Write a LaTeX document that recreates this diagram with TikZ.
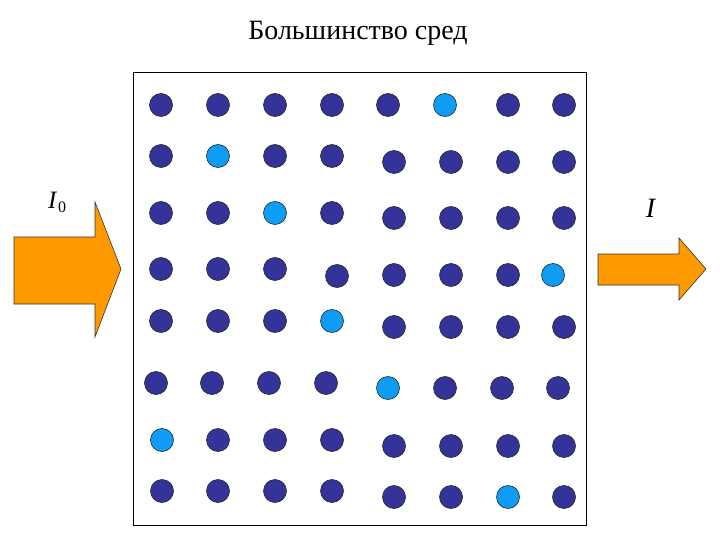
\documentclass[tikz,border=0pt]{standalone}
\usepackage{fontspec}
\setmainfont{Liberation Serif}
\definecolor{darkdot}{HTML}{333399}
\definecolor{lightdot}{HTML}{0F9CF5}
\definecolor{arroworange}{HTML}{FF9900}
\tikzset{
  dot/.style={circle, draw=black!85, line width=0.6pt, fill=darkdot, minimum size=23pt, inner sep=0pt},
  ldot/.style={dot, fill=lightdot},
  bigarrow/.style={fill=arroworange, draw=black!80, line width=0.6pt, line join=miter},
  label/.style={font=\fontsize{28}{30}\selectfont, inner sep=0pt, anchor=base}
}
\begin{document}
\begin{tikzpicture}[x=1pt, y=-1pt]
\useasboundingbox (0,0) rectangle (720,540);
\node[label] (title) at (358,40) {Большинство сред};
\node[draw=black, line width=1.2pt, minimum width=453pt, minimum height=453pt, inner sep=0pt, anchor=north west] (box) at (133,72) {};
% arrows
\draw[bigarrow] (14,237) -- (95,237) -- (95,202) -- (121,269) -- (95,337) -- (95,304) -- (14,304) -- cycle;
\draw[bigarrow] (598,254) -- (679,254) -- (679,238) -- (706,269) -- (679,300) -- (679,285) -- (598,285) -- cycle;
\node[label, anchor=base west, font=\fontsize{25}{28}\selectfont] (I0) at (48,209) {\textit{I}\kern0.5pt\raisebox{-4pt}{\fontsize{16}{17}\selectfont 0}};
\node[label, font=\fontsize{28}{30}\selectfont] (I) at (651,218) {\textit{I}};
% row 1
\node[dot] (d11) at (161,105) {};
\node[dot] (d12) at (218,105) {};
\node[dot] (d13) at (275,105) {};
\node[dot] (d14) at (332,105) {};
\node[dot] (d15) at (388,105) {};
\node[ldot] (d16) at (445,105) {};
\node[dot] (d17) at (508,105) {};
\node[dot] (d18) at (564,105) {};
% row 2
\node[dot] (d21) at (161,156) {};
\node[ldot] (d22) at (218,156) {};
\node[dot] (d23) at (275,156) {};
\node[dot] (d24) at (332,156) {};
\node[dot] (d25) at (394,162) {};
\node[dot] (d26) at (451,162) {};
\node[dot] (d27) at (508,162) {};
\node[dot] (d28) at (564,162) {};
% row 3
\node[dot] (d31) at (161,213) {};
\node[dot] (d32) at (218,213) {};
\node[ldot] (d33) at (275,213) {};
\node[dot] (d34) at (332,213) {};
\node[dot] (d35) at (394,218) {};
\node[dot] (d36) at (451,218) {};
\node[dot] (d37) at (508,218) {};
\node[dot] (d38) at (564,218) {};
% row 4
\node[dot] (d41) at (161,269) {};
\node[dot] (d42) at (218,269) {};
\node[dot] (d43) at (275,269) {};
\node[dot] (d44) at (337,276) {};
\node[dot] (d45) at (394,275) {};
\node[dot] (d46) at (451,275) {};
\node[dot] (d47) at (508,275) {};
\node[ldot] (d48) at (553,275) {};
% row 5
\node[dot] (d51) at (161,321) {};
\node[dot] (d52) at (218,321) {};
\node[dot] (d53) at (275,321) {};
\node[ldot] (d54) at (332,321) {};
\node[dot] (d55) at (394,327) {};
\node[dot] (d56) at (451,327) {};
\node[dot] (d57) at (508,327) {};
\node[dot] (d58) at (564,327) {};
% row 6
\node[dot] (d61) at (156,383) {};
\node[dot] (d62) at (212,383) {};
\node[dot] (d63) at (269,383) {};
\node[dot] (d64) at (326,383) {};
\node[ldot] (d65) at (388,388) {};
\node[dot] (d66) at (445,388) {};
\node[dot] (d67) at (502,388) {};
\node[dot] (d68) at (558,388) {};
% row 7
\node[ldot] (d71) at (162,440) {};
\node[dot] (d72) at (218,440) {};
\node[dot] (d73) at (275,440) {};
\node[dot] (d74) at (332,440) {};
\node[dot] (d75) at (394,446) {};
\node[dot] (d76) at (451,446) {};
\node[dot] (d77) at (508,446) {};
\node[dot] (d78) at (564,446) {};
% row 8
\node[dot] (d81) at (162,491) {};
\node[dot] (d82) at (218,491) {};
\node[dot] (d83) at (275,491) {};
\node[dot] (d84) at (332,491) {};
\node[dot] (d85) at (394,497) {};
\node[dot] (d86) at (451,497) {};
\node[ldot] (d87) at (508,497) {};
\node[dot] (d88) at (564,497) {};
\end{tikzpicture}
\end{document}
